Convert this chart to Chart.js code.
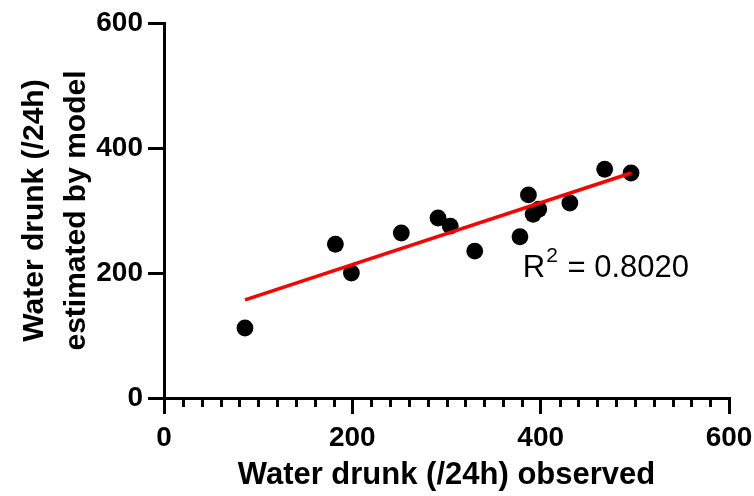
<!DOCTYPE html>
<html>
<head>
<meta charset="utf-8">
<script src="https://cdn.jsdelivr.net/npm/chart.js@4"></script>
<style>
  html, body { margin: 0; padding: 0; background: #fff; }
  #wrap { width: 754px; height: 496px; }
</style>
</head>
<body>
<div id="wrap"><canvas id="chart" width="754" height="496"></canvas></div>
<script>
// observed vs model estimate (per 24h)
const observed = [86, 182, 199, 252, 291, 304, 330, 378, 387, 392, 398, 431, 468, 496]
const estimated = [112, 246, 200, 264, 288, 275, 235, 258, 325, 294, 302, 312, 366, 360]

// fitted line end points
const fitX = [86, 496]
const fitY = [157, 360]

const majorTicks = [0, 200, 400, 600]
const r2Label = "0.8020"

const font = "'Liberation Sans', Arial, sans-serif"

// short minor ticks on the x axis
const minorTicks = {
  id: "minorTicks",
  afterDraw(chart) {
    const { ctx, scales } = chart
    const x = scales.x
    const bottom = chart.chartArea.bottom
    ctx.save()
    ctx.strokeStyle = "#000"
    ctx.lineWidth = 3
    x.ticks.forEach((t) => {
      if (majorTicks.includes(t.value)) return
      const px = Math.round(x.getPixelForValue(t.value)) + 0.5
      ctx.beginPath()
      ctx.moveTo(px, bottom)
      ctx.lineTo(px, bottom + 9)
      ctx.stroke()
    })
    ctx.restore()
  },
}

// R² annotation
const r2Text = {
  id: "r2Text",
  afterDatasetsDraw(chart) {
    const { ctx, scales } = chart
    const x = scales.x.getPixelForValue(381)
    const y = scales.y.getPixelForValue(193)
    ctx.save()
    ctx.fillStyle = "#000"
    ctx.textBaseline = "alphabetic"
    ctx.font = "31px " + font
    ctx.fillText("R", x, y)
    const w1 = ctx.measureText("R").width
    ctx.font = "21px " + font
    ctx.fillText("2", x + w1 + 1, y - 15)
    const w2 = ctx.measureText("2").width
    ctx.font = "31px " + font
    ctx.fillText(" = " + r2Label, x + w1 + w2 + 2, y)
    ctx.restore()
  },
}

const ctx = document.getElementById("chart").getContext("2d")

new Chart(ctx, {
  type: "scatter",
  data: {
    datasets: [
      {
        type: "line",
        data: fitX.map((v, i) => ({ x: v, y: fitY[i] })),
        borderColor: "#ff0000",
        borderWidth: 3.5,
        pointRadius: 0,
        fill: false,
      },
      {
        data: observed.map((v, i) => ({ x: v, y: estimated[i] })),
        backgroundColor: "#000",
        borderWidth: 0,
        pointRadius: 8.4,
      },
    ],
  },
  options: {
    responsive: false,
    animation: false,
    layout: { padding: { left: 0, top: 23, right: 25, bottom: 0 } },
    plugins: {
      legend: { display: false },
      tooltip: { enabled: false },
    },
    scales: {
      x: {
        type: "linear",
        min: 0,
        max: 600,
        afterFit: (s) => {
          s.height = 98
          s.paddingLeft = 0
          s.paddingRight = 0
        },
        border: { color: "#000", width: 3 },
        grid: {
          drawOnChartArea: false,
          drawTicks: true,
          tickLength: 16,
          lineWidth: 3,
          tickWidth: 3,
          tickColor: (c) => (c.tick && majorTicks.includes(c.tick.value) ? "#000" : "rgba(0,0,0,0)"),
        },
        ticks: {
          stepSize: 20,
          autoSkip: false,
          maxRotation: 0,
          padding: 7,
          color: "#000",
          font: { family: font, size: 28, weight: "bold" },
          callback: (v) => (majorTicks.includes(v) ? v : ""),
        },
        title: {
          display: true,
          text: "Water drunk (/24h) observed",
          color: "#000",
          font: { family: font, size: 31, weight: "bold", lineHeight: 1.2 },
          padding: { top: 0, bottom: 2 },
        },
      },
      y: {
        type: "linear",
        min: 0,
        max: 600,
        afterFit: (s) => {
          s.width = 164
          s.paddingTop = 0
          s.paddingBottom = 0
        },
        border: { color: "#000", width: 3 },
        grid: {
          drawOnChartArea: false,
          drawTicks: true,
          tickLength: 16,
          lineWidth: 3,
          tickWidth: 3,
          tickColor: "#000",
        },
        ticks: {
          stepSize: 200,
          padding: 5,
          color: "#000",
          font: { family: font, size: 28, weight: "bold" },
        },
        title: {
          display: true,
          text: ["Water drunk (/24h)", "estimated by model"],
          color: "#000",
          font: { family: font, size: 30, weight: "bold", lineHeight: 1.4 },
          padding: { top: 14, bottom: 0 },
        },
      },
    },
  },
  plugins: [minorTicks, r2Text],
})
</script>
</body>
</html>
